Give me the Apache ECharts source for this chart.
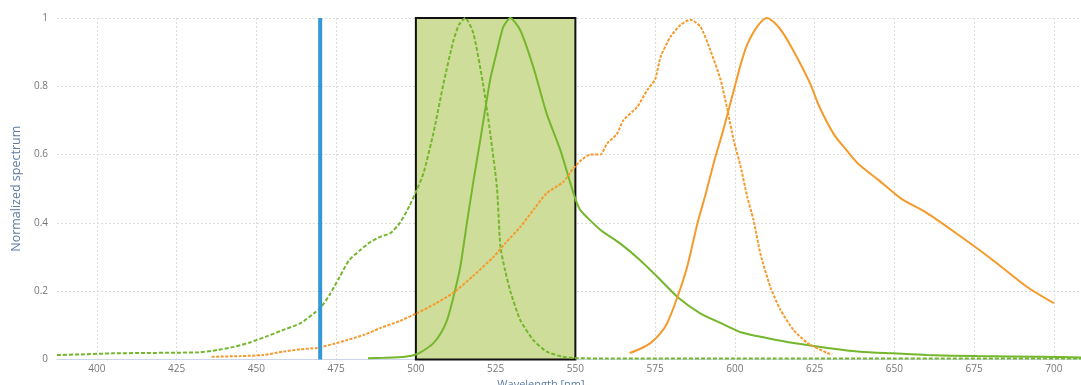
<!DOCTYPE html>
<html>
<head>
<meta charset="utf-8">
<script src="https://cdn.jsdelivr.net/npm/echarts@6/dist/echarts.min.js"></script>
<style>
html,body{margin:0;padding:0;background:#fff;}
#chart{width:1081px;height:385px;}
</style>
</head>
<body>
<div id="chart"></div>
<script>
// ---- data ----
const xTicks = [400, 425, 450, 475, 500, 525, 550, 575, 600, 625, 650, 675, 700];
const yTicks = [0, 0.2, 0.4, 0.6, 0.8, 1];
const laserNm = 470;
const filterBand = [500, 550];

const greenExNm  = [387.5, 395, 405, 415, 425, 432, 438, 443, 448, 453, 458, 464, 468, 470, 473, 476, 479, 482.5, 485.7, 489, 492, 495, 498, 500.3, 502.4, 505.5, 508.7, 511.8, 513.5, 515.5, 518, 521, 523.3, 525.4, 526.5, 528, 529.6, 532.7, 536.8, 541, 546, 550, 560, 600, 650, 708.5];
const greenExVal = [0.013, 0.015, 0.018, 0.019, 0.02, 0.021, 0.028, 0.037, 0.05, 0.067, 0.085, 0.107, 0.135, 0.15, 0.19, 0.24, 0.29, 0.32, 0.344, 0.36, 0.37, 0.40, 0.45, 0.497, 0.546, 0.663, 0.81, 0.935, 0.98, 1.0, 0.956, 0.81, 0.663, 0.505, 0.33, 0.26, 0.20, 0.116, 0.057, 0.023, 0.008, 0.004, 0.003, 0.003, 0.003, 0.003];

const greenEmNm  = [485, 490, 496.6, 500.4, 503, 505.5, 508, 509.8, 511.7, 513.9, 516, 518, 520.2, 523.3, 525.5, 527.4, 529.6, 532.7, 536.8, 541, 545.3, 549.4, 551.5, 557.8, 564, 570.4, 576.7, 582, 589, 595.5, 601.8, 610, 618.4, 629, 639.4, 649.8, 660, 676, 696, 708.5];
const greenEmVal = [0.004, 0.005, 0.008, 0.016, 0.03, 0.048, 0.08, 0.116, 0.18, 0.27, 0.40, 0.52, 0.643, 0.82, 0.906, 0.974, 1.0, 0.965, 0.857, 0.72, 0.613, 0.487, 0.438, 0.38, 0.34, 0.29, 0.233, 0.183, 0.136, 0.107, 0.08, 0.063, 0.048, 0.034, 0.023, 0.018, 0.013, 0.010, 0.008, 0.006];

const orangeExNm  = [436, 445, 452, 458.4, 464, 469, 474, 478.4, 484, 488.8, 495, 500.4, 506, 511.7, 518, 524.3, 528, 532.7, 537, 541, 546.2, 549.4, 552, 554.7, 557.8, 560, 563, 565, 569.4, 572.6, 575, 576.7, 579.8, 583, 586, 589.2, 592.3, 595.5, 597.7, 599.6, 601.8, 603.9, 605.8, 608, 611.2, 614.3, 618.4, 622.8, 629, 630.5];
const orangeExVal = [0.008, 0.01, 0.013, 0.023, 0.03, 0.034, 0.045, 0.057, 0.073, 0.092, 0.113, 0.136, 0.163, 0.195, 0.245, 0.30, 0.34, 0.388, 0.44, 0.487, 0.52, 0.56, 0.585, 0.60, 0.60, 0.633, 0.66, 0.70, 0.74, 0.79, 0.82, 0.886, 0.945, 0.98, 0.995, 0.975, 0.906, 0.82, 0.73, 0.643, 0.565, 0.476, 0.41, 0.31, 0.21, 0.145, 0.086, 0.048, 0.019, 0.015];

const orangeEmNm  = [567, 570, 573.5, 576.5, 578.8, 582, 585, 588.3, 591, 593.5, 596, 598, 600, 602, 604, 607, 610, 614, 618, 623.5, 626.5, 631, 635, 639, 645, 652, 660, 670.8, 681, 691.5, 700];
const orangeEmVal = [0.019, 0.03, 0.048, 0.075, 0.107, 0.183, 0.27, 0.40, 0.49, 0.58, 0.66, 0.73, 0.80, 0.87, 0.925, 0.975, 1.0, 0.97, 0.91, 0.81, 0.74, 0.66, 0.613, 0.57, 0.526, 0.472, 0.43, 0.36, 0.29, 0.213, 0.165];

// ---- chart ----
const GREEN = '#74b72c';
const ORANGE = '#f59a2c';
const zip = (a, b) => a.map((v, i) => [v, b[i]]);
const FONT = 'Open Sans';

const chart = echarts.init(document.getElementById('chart'), null, {renderer: 'canvas'});
chart.setOption({
  animation: false,
  backgroundColor: '#ffffff',
  grid: {left: 57, right: 0, top: 18, bottom: 25.5, containLabel: false, outerBoundsMode: 'none'},
  xAxis: {
    type: 'value',
    min: 387.5,
    max: 708.5,
    name: 'Wavelength [nm]',
    nameLocation: 'middle',
    nameGap: 15,
    nameTextStyle: {color: '#5b7ba3', fontSize: 11, fontFamily: FONT, padding: [0, 56, 0, 0]},
    axisLine: {show: true, lineStyle: {color: '#ccd6eb', width: 1}},
    axisTick: {show: false, customValues: xTicks},
    axisLabel: {customValues: xTicks, color: '#777', fontSize: 10, fontFamily: FONT, margin: 5},
    splitLine: {show: true, lineStyle: {color: '#dddddd', type: [2, 2], width: 1}}
  },
  yAxis: {
    type: 'value',
    min: yTicks[0],
    max: yTicks[yTicks.length - 1],
    interval: 0.2,
    name: 'Normalized spectrum',
    nameLocation: 'middle',
    nameGap: 34,
    nameRotate: 90,
    nameTextStyle: {color: '#5b7ba3', fontSize: 12.5, fontFamily: FONT},
    axisLine: {show: false},
    axisTick: {show: false},
    axisLabel: {color: '#777', fontSize: 10, fontFamily: FONT, margin: 9},
    splitLine: {show: true, lineStyle: {color: '#dddddd', type: [2, 2], width: 1}}
  },
  series: [
    {
      name: 'Filter',
      type: 'line',
      data: [],
      silent: true,
      z: 1,
      markArea: {
        silent: true,
        itemStyle: {color: '#cfdd9b', borderColor: '#111', borderWidth: 2},
        data: [[{xAxis: filterBand[0], yAxis: 0}, {xAxis: filterBand[1], yAxis: 1}]]
      }
    },
    {
      name: 'Green excitation', type: 'line', showSymbol: false, smooth: 0.2, z: 3,
      lineStyle: {color: GREEN, width: 2, type: [4, 2]},
      data: zip(greenExNm, greenExVal)
    },
    {
      name: 'Green emission', type: 'line', showSymbol: false, smooth: 0.2, z: 3,
      lineStyle: {color: GREEN, width: 2},
      data: zip(greenEmNm, greenEmVal)
    },
    {
      name: 'Orange excitation', type: 'line', showSymbol: false, smooth: 0.2, z: 3,
      lineStyle: {color: ORANGE, width: 2, type: [3, 1.5]},
      data: zip(orangeExNm, orangeExVal)
    },
    {
      name: 'Orange emission', type: 'line', showSymbol: false, smooth: 0.3, z: 3,
      lineStyle: {color: ORANGE, width: 2},
      data: zip(orangeEmNm, orangeEmVal)
    },
    {
      name: 'Laser', type: 'line', showSymbol: false, z: 4,
      lineStyle: {color: '#3399d6', width: 4},
      data: [[laserNm, 0], [laserNm, 1]]
    }
  ]
});
</script>
</body>
</html>
